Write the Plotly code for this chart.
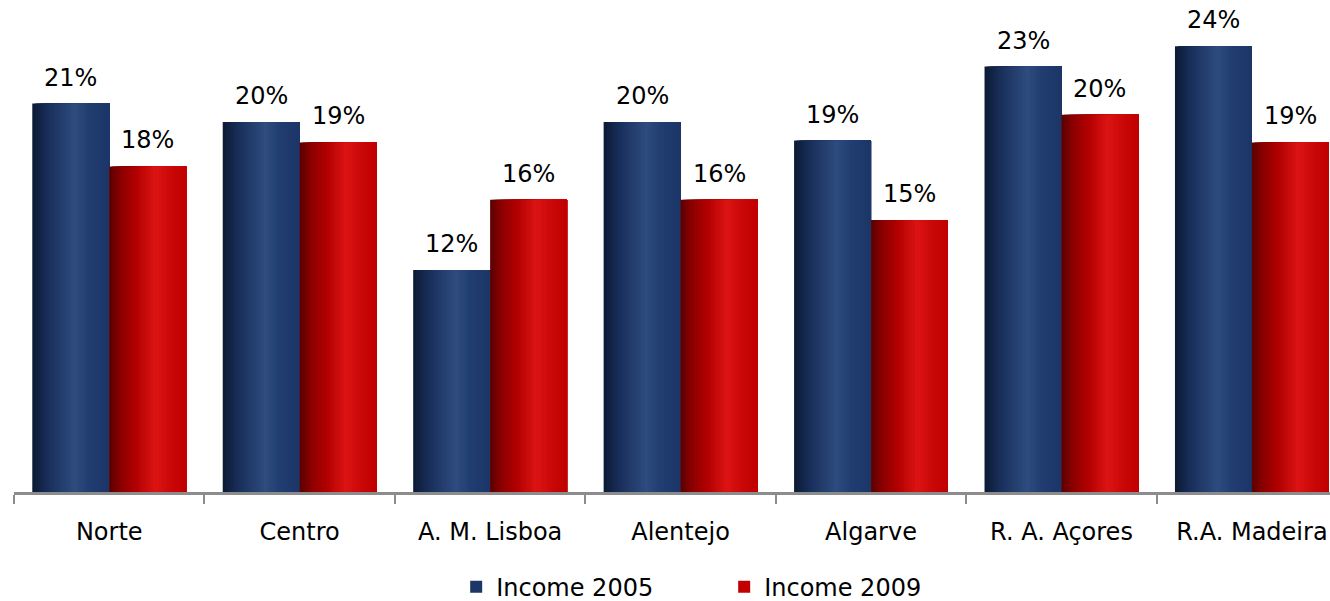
import plotly.graph_objects as go

categories = ["Norte", "Centro", "A. M. Lisboa", "Alentejo", "Algarve", "R. A. Açores", "R.A. Madeira"]
income_2005 = [21.0, 20.0, 12.0, 20.0, 19.0, 23.0, 24.1]
income_2009 = [17.6, 18.9, 15.8, 15.8, 14.7, 20.4, 18.9]
series_names = ["Income 2005", "Income 2009"]

BAR_W = 0.404
N = 28

blue_stops = [(0.0, (12, 26, 50)), (0.2, (24, 46, 90)), (0.55, (46, 76, 126)), (0.75, (33, 61, 112)), (1.0, (27, 53, 102))]
red_stops = [(0.0, (90, 0, 0)), (0.15, (140, 0, 0)), (0.35, (178, 0, 0)), (0.6, (220, 20, 20)), (0.8, (202, 8, 8)), (1.0, (192, 0, 0))]


def color_at(stops, t):
    for (t0, c0), (t1, c1) in zip(stops[:-1], stops[1:]):
        if t <= t1:
            f = (t - t0) / (t1 - t0) if t1 > t0 else 0
            c = [round(a + (b - a) * f) for a, b in zip(c0, c1)]
            return "rgb(%d,%d,%d)" % tuple(c)
    return "rgb(%d,%d,%d)" % stops[-1][1]


fig = go.Figure()
for vals, name, stops, base_off in [
    (income_2005, series_names[0], blue_stops, -BAR_W),
    (income_2009, series_names[1], red_stops, 0.0),
]:
    dw = BAR_W / N
    for k in range(N):
        t = (k + 0.5) / N
        fig.add_trace(go.Bar(
            x=categories, y=vals,
            offset=base_off + k * dw, width=BAR_W - k * dw,
            marker=dict(color=color_at(stops, t), line=dict(width=0)),
            name=name, showlegend=(k == N - 1), legendgroup=name,
            hoverinfo="skip",
        ))
    for i, v in enumerate(vals):
        fig.add_annotation(
            x=i + base_off + BAR_W / 2, y=v, xref="x", yref="y",
            text="%d%%" % round(v), showarrow=False, yanchor="bottom",
            yshift=10, font=dict(family="DejaVu Sans", size=24, color="#000000"),
        )

fig.update_layout(
    width=1330, height=601,
    margin=dict(l=14, r=0, t=0, b=109),
    barmode="overlay",
    plot_bgcolor="white", paper_bgcolor="white",
    font=dict(family="DejaVu Sans", size=24, color="#000000"),
    showlegend=True,
    legend=dict(orientation="h", x=0.336, xanchor="left", y=0.023, yref="container",
                yanchor="middle", font=dict(size=24), itemwidth=30, tracegroupgap=0,
                entrywidth=223, entrywidthmode="pixels", traceorder="normal"),
    xaxis=dict(
        type="category", range=[-0.5, 6.41],
        showline=True, linecolor="#8c8c8c", linewidth=3,
        ticks="outside", tickson="boundaries", ticklen=9, tickcolor="#8c8c8c", tickwidth=2,
        showgrid=False, ticklabelstandoff=16,
    ),
    yaxis=dict(range=[0, 26.6], visible=False, showgrid=False, zeroline=False),
)

fig.write_html("out.html")
